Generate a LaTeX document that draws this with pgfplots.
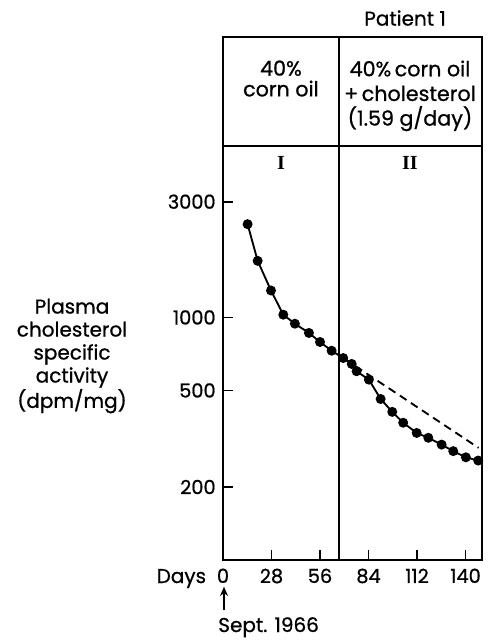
\documentclass[border=0pt]{standalone}
\usepackage{fontspec}
\setmainfont{Poppins}[FakeBold=0.8]
\newfontfamily\serif{Liberation Serif}
\usepackage{pgfplots}
\pgfplotsset{compat=1.18}
\usetikzlibrary{arrows.meta}

\begin{document}
\begin{tikzpicture}
\begin{axis}[
    scale only axis,
    width=194.25pt, height=310.5pt,
    ymode=log,
    xmin=0, xmax=149.5,
    ymin=100, ymax=5090,
    clip=false,
    axis line style={line width=1.3pt},
    tick style={line width=1.3pt, black},
    tick align=inside,
    major tick length=7.5pt,
    xtick pos=bottom, ytick pos=left,
    xtick={0,28,56,84,112,140},
    xticklabels={0,28,56,84,112,140},
    ytick={200,500,1000,3000},
    yticklabels={200,500,1000,3000},
    minor tick num=0,
    ticklabel style={font=\fontsize{14.5}{16}\selectfont},
    yticklabel style={xshift=-2pt},
    xticklabel style={yshift=-3pt},
]
% observed values
\addplot[black, line width=1.4pt, mark=*, mark size=3pt] coordinates {
(14.2,2423) (20,1711) (27.7,1291) (34.8,1026) (41.5,942) (49.6,863)
(56,792) (62.7,729) (69.4,680) (74.3,643) (77.1,600) (84.2,554)
(91,461) (97.7,408) (104,368) (111.8,334) (118.5,319) (126.2,299)
(132.9,281) (140.2,265) (147.3,257)
};
% extrapolation of phase I
\addplot[black, line width=1.4pt, dash pattern=on 6pt off 4pt] coordinates {
(70,676) (147.5,290)
};
\coordinate (d) at (axis cs:67,100);
\coordinate (t) at (rel axis cs:0,1.2633);
\draw[line width=1.3pt] (d) -- (d |- t);
\draw[line width=1.3pt] (rel axis cs:0,1) -- (rel axis cs:0,1.2633) -- (rel axis cs:1,1.2633) -- (rel axis cs:1,1);
\node[anchor=north, align=center, inner sep=0pt, font=\fontsize{15.5}{15.5}\selectfont] at (rel axis cs:0.2237,1.207) {40\%\\corn oil};
\node[anchor=north, align=center, inner sep=0pt, font=\fontsize{15.5}{18.5}\selectfont] at (rel axis cs:0.7220,1.207) {40\%\,corn oil\\+\,cholesterol\\(1.59 g/day)};
\node[font=\fontsize{15}{17}\selectfont\serif\bfseries] at (rel axis cs:0.2237,0.959) {I};
\node[font=\fontsize{15}{17}\selectfont\serif\bfseries] at (rel axis cs:0.7220,0.959) {II};
\node[font=\fontsize{15}{17}\selectfont] at (rel axis cs:0.703,1.309) {Patient 1};
\end{axis}
\node[align=center, font=\fontsize{15}{17.25}\selectfont] at (-113.25pt,153pt) {Plasma\\cholesterol\\specific\\activity\\(dpm/mg)};
\node[anchor=base east, inner sep=0pt, font=\fontsize{15}{16}\selectfont] at (-12.5pt,-17.25pt) {Days};
\draw[line width=1.4pt, -{Stealth[length=7pt,width=6pt]}] (0.75pt,-37.5pt) -- (0.75pt,-20pt);
\node[anchor=base west, inner sep=0pt, font=\fontsize{15}{16}\selectfont] at (-3.75pt,-54pt) {Sept. 1966};
\pgfresetboundingbox
\path (-167.25pt,-60.75pt) rectangle (198.75pt,420pt);
\end{tikzpicture}
\end{document}
